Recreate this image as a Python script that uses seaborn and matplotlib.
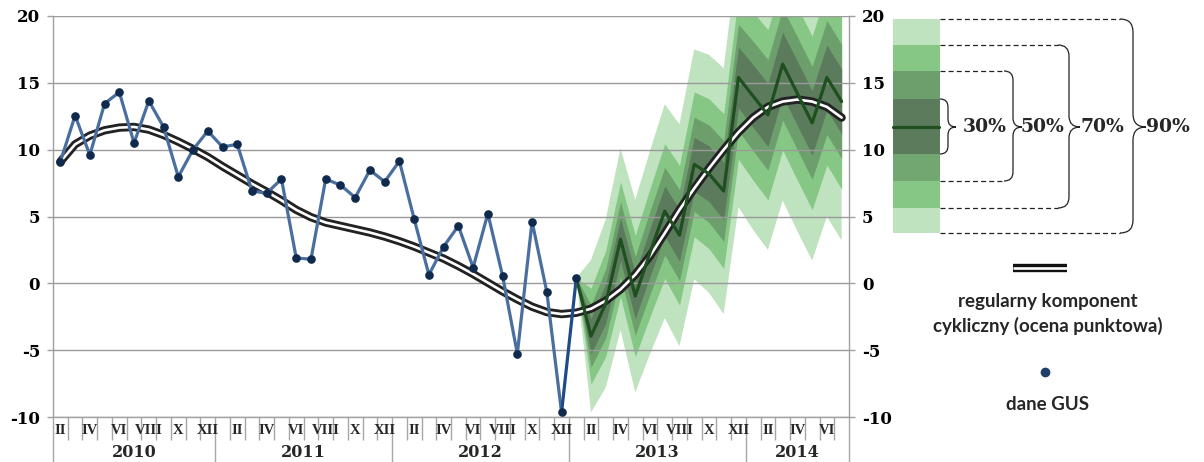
import numpy as np
import pandas as pd
import matplotlib
matplotlib.use("Agg")
import matplotlib.pyplot as plt
import seaborn as sns
from matplotlib.patches import Rectangle, PathPatch
from matplotlib.path import Path

# monthly categories, Feb 2010 - Jul 2014
months = pd.date_range("2010-02-01", periods=54, freq="MS")
roman = ["I", "II", "III", "IV", "V", "VI", "VII", "VIII", "IX", "X", "XI", "XII"]
years = ["2010", "2011", "2012", "2013", "2014"]

# dane GUS (Feb 2010 - Jan 2013)
gus = [9.1, 12.55, 9.6, 13.45, 14.3, 10.5, 13.65, 11.7, 7.97, 10.0, 11.4,
       10.2, 10.4, 6.9, 6.75, 7.8, 1.9, 1.8, 7.8, 7.35, 6.42, 8.47, 7.6,
       9.14, 4.82, 0.64, 2.75, 4.3, 1.18, 5.22, 0.56, -5.27, 4.62, -0.64, -9.66,
       0.39]

# regularny komponent cykliczny (Feb 2010 - Jul 2014)
cyclic = [9.1, 10.4, 11.05, 11.45, 11.65, 11.7, 11.5, 11.1, 10.6, 10.05, 9.45,
          8.75, 8.1, 7.45, 6.85, 6.2, 5.5, 4.95, 4.55, 4.3, 4.05, 3.8, 3.5,
          3.15, 2.75, 2.3, 1.85, 1.3, 0.7, 0.05, -0.6, -1.2, -1.75, -2.15, -2.3,
          -2.2, -1.9, -1.3, -0.45, 0.65, 2.05, 3.75, 5.5, 7.1, 8.6, 10.0, 11.3,
          12.4, 13.2, 13.6, 13.75, 13.6, 13.2, 12.4]

# prognoza (Jan 2013 - Jul 2014): central path and 90% half-width
fc_path = [0.4, -3.95, -1.5, 3.3, -0.95, 2.3, 5.4, 3.6, 8.9, 8.2, 6.9, 15.4,
           14.0, 12.6, 16.4, 14.2, 12.0, 15.4, 13.6]
half90 = [0.0, 5.7, 6.3, 6.8, 7.2, 7.6, 8.0, 8.3, 8.6, 8.9, 9.2, 9.7,
          10.0, 10.1, 10.2, 10.3, 10.3, 10.4, 10.4]

levels = ["90%", "70%", "50%", "30%"]
z_level = [1.6449, 1.0364, 0.6745, 0.3853]
band_colors = ["#bfe2bf", "#86c786", "#6d9f6d", "#5c7b5c"]

sns.set_theme(style="white")
plt.rcParams["font.family"] = ["DejaVu Serif"]
plt.rcParams["axes.unicode_minus"] = False

W, H = 1204, 462
fig = plt.figure(figsize=(W / 100, H / 100), dpi=100)
ax = fig.add_axes([53 / W, 1 - 417 / H, 796 / W, 401 / H])

idx = np.arange(len(months))
fc_idx = idx[len(gus) - 1:]
path = np.array(fc_path)
h90 = np.array(half90)

# fan chart
for lev, z, col in zip(levels, z_level, band_colors):
    hw = h90 * z / z_level[0]
    ax.fill_between(fc_idx, path - hw, path + hw, color=col, lw=0, zorder=1)

# cyclical component as a double line
df_c = pd.DataFrame({"i": idx, "v": cyclic})
sns.lineplot(data=df_c, x="i", y="v", ax=ax, color="#222222", lw=6,
             solid_capstyle="round", zorder=4)
sns.lineplot(data=df_c, x="i", y="v", ax=ax, color="white", lw=1.9,
             solid_capstyle="round", zorder=4.1)

# forecast central path
df_f = pd.DataFrame({"i": fc_idx, "v": fc_path})
sns.lineplot(data=df_f, x="i", y="v", ax=ax, color="#1d4f1f", lw=2.3, zorder=5)

# GUS data
df_g = pd.DataFrame({"i": idx[:len(gus)], "v": gus})
sns.lineplot(data=df_g.iloc[:-1], x="i", y="v", ax=ax, color="#4a6f9f", lw=2.3,
             zorder=6)
sns.lineplot(data=df_g.iloc[-2:], x="i", y="v", ax=ax, color="#1f4c86", lw=2.3,
             zorder=6)
ax.plot(df_g["i"], df_g["v"], ls="none", marker="o", ms=5.2, color="#0f2a4d",
        zorder=7)

# axes styling
ax.set_xlim(-0.5, len(months) - 0.5)
ax.set_ylim(-10, 20)
ax.set_xlabel("")
ax.set_ylabel("")
yt = list(range(-10, 21, 5))
ax.set_yticks(yt)
ax.set_yticklabels([str(v) for v in yt], fontweight="bold", fontsize=12)
ax.grid(axis="y", color="#9a9a9a", lw=1)
ax.set_axisbelow(False)
ax.spines["top"].set_visible(False)
for s in ["left", "right", "bottom"]:
    ax.spines[s].set_color("#a0a0a0")
    ax.spines[s].set_linewidth(1)
ax.tick_params(axis="y", which="both", left=True, right=True, labelleft=True,
               labelright=True, length=4.3, width=1, color="#a0a0a0",
               direction="out", pad=5, labelcolor="black")
for t in ax.yaxis.get_major_ticks():
    t.label1.set_fontweight("bold")
    t.label2.set_fontweight("bold")
    t.label2.set_fontsize(12)

# two-level category axis
bounds = np.arange(-0.5, len(months), 1.0)
year_bounds = [-0.5] + [i - 0.5 for i, d in enumerate(months) if d.month == 1] + [len(months) - 0.5]
ax.set_xticks(bounds, minor=True)
ax.set_xticks(year_bounds)
ax.set_xticklabels([""] * len(year_bounds))
ax.tick_params(axis="x", which="minor", length=16.5, width=1, color="#a6a6a6",
               direction="out", bottom=True)
ax.tick_params(axis="x", which="major", length=34, width=1, color="#a6a6a6",
               direction="out", bottom=True)
trans = ax.get_xaxis_transform()
for i, d in enumerate(months):
    if d.month % 2 == 0:
        ax.text(i, -0.034, roman[d.month - 1], transform=trans, ha="center",
                va="center", fontsize=10.5, fontweight="bold",
                family="Liberation Serif", clip_on=False)
for k, yr in enumerate(years):
    c = (year_bounds[k] + year_bounds[k + 1]) / 2
    ax.text(c, -0.088, yr, transform=trans, ha="center", va="center",
            fontsize=11.5, fontweight="bold", clip_on=False)

# legend panel (pixel coordinates)
lg = fig.add_axes([0, 0, 1, 1])
lg.set_xlim(0, W)
lg.set_ylim(H, 0)
lg.axis("off")
lg.patch.set_alpha(0)

seg_edges = [19, 45, 71, 99, 154, 181, 208, 233]
seg_cols = ["#bfe2bf", "#86c786", "#6d9f6d", "#5c7b5c", "#72a772", "#86c786", "#bfe2bf"]
for k in range(7):
    lg.add_patch(Rectangle((893, seg_edges[k]), 47, seg_edges[k + 1] - seg_edges[k],
                           color=seg_cols[k], lw=0))
lg.plot([893, 939], [127, 127], color="#1d4f1f", lw=2.3)


def brace(x0, x1, top, bot, mid, r, label, lx):
    if x1 - r > x0:
        lg.plot([x0, x1 - r], [top, top], color="#222222", lw=0.9, ls=(0, (4, 2.5)))
        lg.plot([x0, x1 - r], [bot, bot], color="#222222", lw=0.9, ls=(0, (4, 2.5)))
    verts = [(x1 - r, top), (x1, top), (x1, top + r),
             (x1, mid - r), (x1, mid), (x1 + r, mid),
             (x1, mid), (x1, mid + r),
             (x1, bot - r), (x1, bot), (x1 - r, bot)]
    codes = [Path.MOVETO, Path.CURVE3, Path.CURVE3,
             Path.LINETO, Path.CURVE3, Path.CURVE3,
             Path.CURVE3, Path.CURVE3,
             Path.LINETO, Path.CURVE3, Path.CURVE3]
    lg.add_patch(PathPatch(Path(verts, codes), fill=False, ec="#222222", lw=0.9))
    lg.text(lx, mid, label, ha="left", va="center", fontsize=13.5,
            fontweight="bold")


brace(940, 948, 99, 154, 127, 8, "30%", 963)
brace(940, 1013, 71, 181, 127, 9, "50%", 1021)
brace(940, 1069, 45, 208, 127, 11, "70%", 1080)
brace(940, 1133, 19, 233, 127, 13, "90%", 1146)

lg.plot([1013, 1067], [267.5, 267.5], color="#111111", lw=6, solid_capstyle="butt")
lg.plot([1013, 1067], [267.5, 267.5], color="white", lw=1.9, solid_capstyle="butt")
lg.text(1048, 301, "regularny komponent", ha="center", va="center",
        fontsize=13.5, fontweight="bold", family="Lato")
lg.text(1048, 326, "cykliczny (ocena punktowa)", ha="center", va="center",
        fontsize=13.5, fontweight="bold", family="Lato")
lg.plot([1045], [372], marker="o", ms=6, color="#1f3f6a", ls="none")
lg.text(1048, 405, "dane GUS", ha="center", va="center", fontsize=13.5,
        fontweight="bold", family="Lato")

fig.savefig("out.png", dpi=100)
